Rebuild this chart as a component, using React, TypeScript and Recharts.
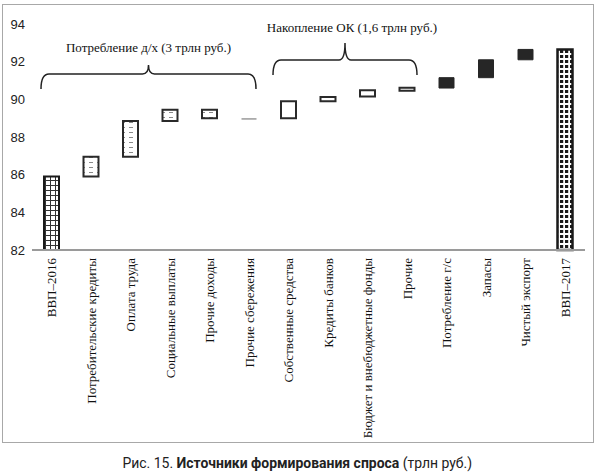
import React from 'react';
import { BarChart, Bar, XAxis, YAxis, Cell, ReferenceArea } from 'recharts';

const categories = [
  'ВВП–2016',
  'Потребительские кредиты',
  'Оплата труда',
  'Социальные выплаты',
  'Прочие доходы',
  'Прочие сбережения',
  'Собственные средства',
  'Кредиты банков',
  'Бюджет и внебюджетные фонды',
  'Прочие',
  'Потребление г/с',
  'Запасы',
  'Чистый экспорт',
  'ВВП–2017',
];
const lows = [82, 85.9, 86.95, 88.85, 89.0, 88.92, 89.0, 89.9, 90.15, 90.45, 90.6, 91.15, 92.1, 82];
const highs = [85.9, 86.95, 88.85, 89.45, 89.45, 89.0, 89.9, 90.12, 90.48, 90.62, 91.15, 92.1, 92.65, 92.65];
const groups = [
  'start', 'household', 'household', 'household', 'household', 'saving',
  'accum', 'accum', 'accum', 'accum', 'other', 'other', 'other', 'end',
];
const yTicks = [82, 84, 86, 88, 90, 92, 94];

const braceTexts = ['Потребление д/х (3 трлн руб.)', 'Накопление ОК (1,6 трлн руб.)'];
const captionPrefix = 'Рис. 15. ';
const captionBold = 'Источники формирования спроса';
const captionSuffix = ' (трлн руб.)';

const data = categories.map((name, i) => ({ name, range: [lows[i], highs[i]], group: groups[i] }));

const groupStyle: Record<string, { fill: string; stroke: string; strokeWidth: number }> = {
  start: { fill: 'url(#pGrid)', stroke: '#1a1a1a', strokeWidth: 2 },
  household: { fill: 'url(#pDash)', stroke: '#2a2a2a', strokeWidth: 2 },
  saving: { fill: '#9a9a9a', stroke: 'none', strokeWidth: 0 },
  accum: { fill: '#ffffff', stroke: '#2a2a2a', strokeWidth: 2 },
  other: { fill: '#262626', stroke: '#262626', strokeWidth: 1 },
  end: { fill: 'url(#pCheck)', stroke: '#1a1a1a', strokeWidth: 2.5 },
};

const makeBrace = (insetL: number, insetR: number, midFrac: number, text: string, textDx: number, textGap: number) =>
  (props: any) => {
    const { x, y, width, height } = props;
    const x0 = x + insetL;
    const x1 = x + width - insetR;
    const xm = (x0 + x1) / 2;
    const yTop = y;
    const yBot = y + height;
    const yMid = y + height * midFrac;
    const d = `M${x0},${yBot} Q${x0},${yMid} ${x0 + 8},${yMid} L${xm - 6},${yMid} Q${xm},${yMid} ${xm},${yTop} Q${xm},${yMid} ${xm + 6},${yMid} L${x1 - 8},${yMid} Q${x1},${yMid} ${x1},${yBot}`;
    return (
      <g>
        <path d={d} fill="none" stroke="#222" strokeWidth={1.5} />
        <text
          x={xm + textDx}
          y={yTop - textGap}
          textAnchor="middle"
          fontFamily="'Liberation Serif', 'Times New Roman', serif"
          fontSize={13}
          fill="#111"
        >
          {text}
        </text>
      </g>
    );
  };

const XTick = (props: any) => {
  const { x, y, payload } = props;
  return (
    <text
      transform={`translate(${x},${y}) rotate(-90)`}
      textAnchor="end"
      dy="0.35em"
      fontFamily="'Liberation Serif', 'Times New Roman', serif"
      fontSize={13}
      fill="#111"
    >
      {payload.value}
    </text>
  );
};

const YTick = (props: any) => {
  const { x, y, payload } = props;
  return (
    <text
      x={x}
      y={y}
      dy={4.5}
      textAnchor="end"
      fontFamily="'Liberation Sans', Arial, sans-serif"
      fontSize={13}
      fill="#222"
    >
      {payload.value}
    </text>
  );
};

export default function App() {
  return (
    <div style={{ position: 'relative', width: 595, height: 476, background: '#fff' }}>
      <style>{`body{margin:0;background:#fff}`}</style>
      <div
        style={{
          position: 'absolute',
          left: 2,
          top: 4,
          width: 592,
          height: 439,
          border: '1.5px solid #a8a8a8',
          boxSizing: 'border-box',
        }}
      />
      <div style={{ position: 'absolute', left: 0, top: 0 }}>
        <BarChart
          width={595}
          height={445}
          data={data}
          margin={{ top: 24, right: 10, left: 0, bottom: 5 }}
        >
          <defs>
            <pattern id="pGrid" width="5" height="5" patternUnits="userSpaceOnUse">
              <rect width="5" height="5" fill="#ffffff" />
              <path d="M0,0.5 H5 M0.5,0 V5" stroke="#333" strokeWidth={1} />
            </pattern>
            <pattern id="pDash" width="8" height="5" patternUnits="userSpaceOnUse">
              <rect width="8" height="5" fill="#ffffff" />
              <rect x="1" y="2" width="4" height="1" fill="#8a8a8a" />
            </pattern>
            <pattern id="pCheck" width="5" height="5" patternUnits="userSpaceOnUse">
              <rect width="5" height="5" fill="#ffffff" />
              <rect x="0" y="0" width="3.2" height="3" fill="#1a1a1a" />
            </pattern>
          </defs>
          <XAxis
            dataKey="name"
            interval={0}
            height={190}
            tickLine={false}
            tickSize={0}
            tickMargin={8}
            axisLine={{ stroke: '#9a9a9a', strokeWidth: 2 }}
            tick={<XTick />}
          />
          <YAxis
            type="number"
            domain={[82, 94]}
            ticks={yTicks}
            width={32}
            axisLine={false}
            tickLine={false}
            tickSize={0}
            tickMargin={7}
            tick={<YTick />}
          />
          <Bar dataKey="range" barSize={15} isAnimationActive={false}>
            {data.map((d, i) => (
              <Cell key={i} {...groupStyle[d.group]} />
            ))}
          </Bar>
          <ReferenceArea
            x1={categories[0]}
            x2={categories[5]}
            y1={90.55}
            y2={91.82}
            ifOverflow="visible"
            shape={makeBrace(9, 13, 0.375, braceTexts[0], 0, 13)}
          />
          <ReferenceArea
            x1={categories[6]}
            x2={categories[9]}
            y1={91.29}
            y2={92.99}
            ifOverflow="visible"
            shape={makeBrace(4, 10, 0.53, braceTexts[1], 7, 11)}
          />
        </BarChart>
      </div>
      <div
        style={{
          position: 'absolute',
          left: 0,
          top: 454,
          width: 595,
          textAlign: 'center',
          fontFamily: 'Roboto, sans-serif',
          fontSize: 15.5,
          lineHeight: '18px',
          color: '#222',
        }}
      >
        <span style={{ display: 'inline-block', transform: 'scaleX(0.9)', transformOrigin: 'center', whiteSpace: 'nowrap' }}>
          {captionPrefix}
          <b>{captionBold}</b>
          {captionSuffix}
        </span>
      </div>
    </div>
  );
}
